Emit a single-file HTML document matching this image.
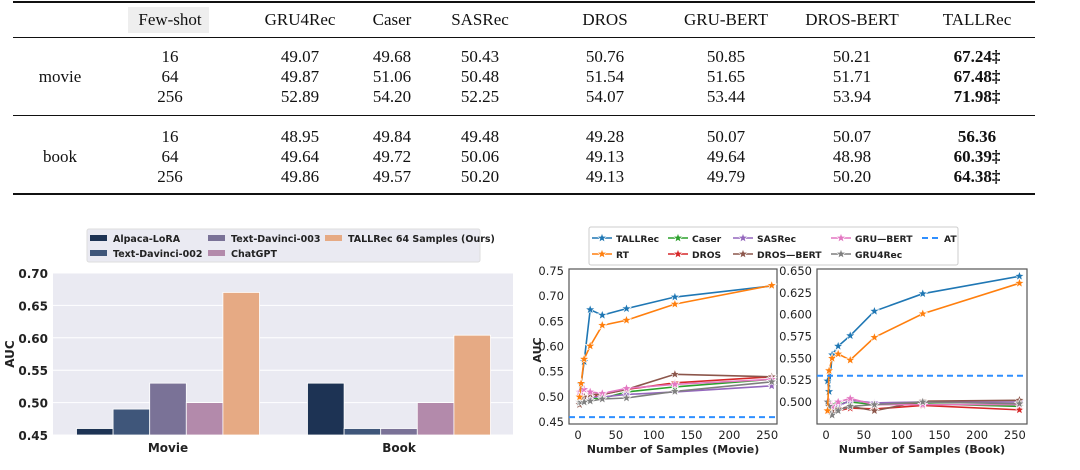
<!DOCTYPE html>
<html><head><meta charset="utf-8">
<style>
html,body{margin:0;padding:0;background:#fff;width:1080px;height:470px;overflow:hidden;position:relative}
.tbl{position:absolute;left:0;top:0;width:1080px;height:200px;font-family:"Liberation Serif",serif;font-size:17px;color:#111}
.rule{position:absolute;left:13px;width:1022px;background:#111}
.c{position:absolute;transform:translate(-50%,-50%);white-space:nowrap}
svg{position:absolute;left:0;top:0}
svg text{font-family:"DejaVu Sans",sans-serif}
</style></head><body>
<div class="tbl">
  <div class="rule" style="top:1px;height:2px"></div>
  <div class="rule" style="top:37px;height:1px"></div>
  <div class="rule" style="top:115px;height:1px"></div>
  <div class="rule" style="top:193px;height:2px"></div>
  <div style="position:absolute;left:128px;top:7px;width:81px;height:26px;background:#eee"></div>
  <div id="cells"></div>
</div>
<svg id="chart" width="1080" height="470"></svg>
<script>
const tblHeaders=["Few-shot","GRU4Rec","Caser","SASRec","DROS","GRU-BERT","DROS-BERT","TALLRec"];
const tblRows=[
["16","49.07","49.68","50.43","50.76","50.85","50.21","67.24‡"],
["64","49.87","51.06","50.48","51.54","51.65","51.71","67.48‡"],
["256","52.89","54.20","52.25","54.07","53.44","53.94","71.98‡"],
["16","48.95","49.84","49.48","49.28","50.07","50.07","56.36"],
["64","49.64","49.72","50.06","49.13","49.64","48.98","60.39‡"],
["256","49.86","49.57","50.20","49.13","49.79","50.20","64.38‡"]];
const colX=[170,300,392,480,605,726,852,977];
const rowY=[57,77,97,137,157,177];
const cells=document.getElementById('cells');
function cell(txt,x,y,bold,name){const d=document.createElement('div');d.className='c';d.style.left=x+'px';d.style.top=y+'px';if(bold)d.style.fontWeight='bold';d.textContent=txt;


cells.appendChild(d);}
tblHeaders.forEach((h,i)=>cell(h,colX[i],20,false,'header-'+h.toLowerCase()));
tblRows.forEach((r,ri)=>r.forEach((v,ci)=>cell(v,colX[ci],rowY[ri],ci==7,'cell')));
cell('movie',60,77,false,'group-movie');
cell('book',60,157,false,'group-book');

const NS='http://www.w3.org/2000/svg';
const svg=document.getElementById('chart');
function el(tag,attrs,parent){const e=document.createElementNS(NS,tag);for(const k in attrs)e.setAttribute(k,attrs[k]);(parent||svg).appendChild(e);return e;}
function txt(s,attrs,name){const t=el('text',attrs);t.textContent=s;


return t;}

// ---------- Bar chart ----------
const barCats=["Movie","Book"];
const barSeries=["Alpaca-LoRA","Text-Davinci-002","Text-Davinci-003","ChatGPT","TALLRec 64 Samples (Ours)"];
const barColors=["#1d3354","#3f567a","#7a7297","#b38aab","#e6aa84"];
const barMovie=[0.46,0.49,0.53,0.50,0.67];
const barBook=[0.53,0.46,0.46,0.50,0.604];
const barTicks=[0.45,0.50,0.55,0.60,0.65,0.70];
const bx0=53,bx1=513,by0=435,by1=273,bmin=0.45,bmax=0.70;
const byS=v=>by0-(v-bmin)/(bmax-bmin)*(by0-by1);
el('rect',{x:bx0,y:by1,width:bx1-bx0,height:by0-by1,fill:'#eaeaf2'});
barTicks.forEach(t=>{el('line',{x1:bx0,x2:bx1,y1:byS(t),y2:byS(t),stroke:'#fff','stroke-width':1});
txt(t.toFixed(2),{x:48,y:byS(t)+5,'text-anchor':'end','font-size':12,'font-weight':'bold',fill:'#222'},'y-tick');});
const groupCenters=[168,399],bw=36.6;
[barMovie,barBook].forEach((vals,g)=>{vals.forEach((v,i)=>{const x=groupCenters[g]+(i-2.5)*bw;
const r=el('rect',{x:x,y:byS(v),width:bw,height:by0-byS(v),fill:barColors[i],stroke:'#fff','stroke-width':0.8});

});
txt(barCats[g],{x:groupCenters[g],y:452,'text-anchor':'middle','font-size':12,'font-weight':'bold',fill:'#222'},'x-category');});
txt('AUC',{x:0,y:0,transform:'translate(14,354) rotate(-90)','text-anchor':'middle','font-size':12,'font-weight':'bold',fill:'#222'},'y-axis-title');
el('rect',{x:87,y:229,width:393,height:33,fill:'#eaeaf2',stroke:'#ddd',rx:2});
const legPos=[[90,238],[90,253],[208,238],[208,253],[325,238]];
barSeries.forEach((s,i)=>{el('rect',{x:legPos[i][0],y:legPos[i][1]-3,width:17,height:6,fill:barColors[i]});
txt(s,{x:legPos[i][0]+23,y:legPos[i][1]+4,'font-size':9.5,'font-weight':'bold',fill:'#222'},'legend-entry');});

// ---------- Line charts ----------
const xs=[2,4,8,16,32,64,128,256];
const lineNames=["TALLRec","RT","Caser","DROS","SASRec","DROS—BERT","GRU—BERT","GRU4Rec"];
const lineColors=["#1f77b4","#ff7f0e","#2ca02c","#d62728","#9467bd","#8c564b","#e377c2","#7f7f7f"];
const movieTALLRec=[0.50,0.525,0.57,0.673,0.662,0.675,0.698,0.720];
const movieRT=[0.50,0.527,0.575,0.601,0.642,0.652,0.684,0.721];
const movieCaser=[0.50,0.50,0.50,0.497,0.497,0.51,0.52,0.535];
const movieDROS=[0.49,0.50,0.50,0.50,0.505,0.515,0.528,0.54];
const movieSASRec=[0.50,0.50,0.50,0.50,0.50,0.505,0.51,0.522];
const movieDROSBERT=[0.485,0.50,0.50,0.505,0.505,0.515,0.545,0.54];
const movieGRUBERT=[0.51,0.51,0.515,0.51,0.507,0.517,0.525,0.535];
const movieGRU4Rec=[0.49,0.49,0.49,0.492,0.496,0.498,0.511,0.53];
const movieAT=0.46;
const bookTALLRec=[0.524,0.512,0.554,0.564,0.576,0.604,0.624,0.644];
const bookRT=[0.49,0.536,0.550,0.555,0.548,0.574,0.601,0.636];
const bookCaser=[0.50,0.50,0.497,0.498,0.50,0.497,0.498,0.495];
const bookDROS=[0.49,0.49,0.49,0.49,0.493,0.492,0.496,0.491];
const bookSASRec=[0.50,0.50,0.495,0.495,0.502,0.499,0.50,0.50];
const bookDROSBERT=[0.50,0.50,0.49,0.492,0.495,0.49,0.501,0.502];
const bookGRUBERT=[0.50,0.50,0.495,0.50,0.504,0.497,0.497,0.497];
const bookGRU4Rec=[0.50,0.495,0.485,0.49,0.495,0.497,0.50,0.498];
const bookAT=0.53;
const xTicks=[0,50,100,150,200,250];
const movieYTicks=[0.45,0.50,0.55,0.60,0.65,0.70,0.75];
const bookYTicks=[0.500,0.525,0.550,0.575,0.600,0.625,0.650];

function star(cx,cy,r,color,parent){let p=[];for(let i=0;i<10;i++){const a=-Math.PI/2+i*Math.PI/5;const rr=i%2?r*0.42:r;p.push((cx+rr*Math.cos(a)).toFixed(1)+','+(cy+rr*Math.sin(a)).toFixed(1));}
const s=el('polygon',{points:p.join(' '),fill:color,stroke:'#fff','stroke-width':0.6},parent);

}

function lineChart(cfg){
  const {x0,x1,y0,y1,xmin,xmax,ymin,ymax,series,at,yTicks,yDec,title,name}=cfg;
  const X=v=>x0+(v-xmin)/(xmax-xmin)*(x1-x0);
  const Y=v=>y0-(v-ymin)/(ymax-ymin)*(y0-y1);
  const g=el('g',{});
  
  
  el('rect',{x:x0,y:y1,width:x1-x0,height:y0-y1,fill:'#fff',stroke:'#555','stroke-width':1.2},g);
  xTicks.forEach(t=>{txt(String(t),{x:X(t),y:y0+15,'text-anchor':'middle','font-size':11.5,fill:'#222'},'x-tick');});
  yTicks.forEach(t=>{txt(t.toFixed(yDec),{x:x0-5,y:Y(t)+4,'text-anchor':'end','font-size':11.5,fill:'#222'},'y-tick');});
  const order=[2,3,4,5,6,7,0,1];
  order.forEach(i=>{const vals=series[i];
    const pl=el('polyline',{points:xs.map((x,j)=>X(x)+','+Y(vals[j])).join(' '),fill:'none',stroke:lineColors[i],'stroke-width':1.6},g);
    
    
    xs.forEach((x,j)=>star(X(x),Y(vals[j]),5,lineColors[i],g));});
  const a=el('line',{x1:x0,x2:x1,y1:Y(at),y2:Y(at),stroke:'#2f8fff','stroke-width':2,'stroke-dasharray':'6,4'},g);
  
  
  txt(title,{x:(x0+x1)/2,y:y0+29,'text-anchor':'middle','font-size':11,'font-weight':'bold',fill:'#222'},'x-axis-title');
}
lineChart({x0:569,x1:777,y0:424,y1:269,xmin:-12,xmax:263,ymin:0.4465,ymax:0.7535,
  series:[movieTALLRec,movieRT,movieCaser,movieDROS,movieSASRec,movieDROSBERT,movieGRUBERT,movieGRU4Rec],
  at:movieAT,yTicks:movieYTicks,yDec:2,title:'Number of Samples (Movie)',name:'movie-line-chart'});
lineChart({x0:817,x1:1027,y0:424,y1:269,xmin:-12,xmax:266,ymin:0.4748,ymax:0.6523,
  series:[bookTALLRec,bookRT,bookCaser,bookDROS,bookSASRec,bookDROSBERT,bookGRUBERT,bookGRU4Rec],
  at:bookAT,yTicks:bookYTicks,yDec:3,title:'Number of Samples (Book)',name:'book-line-chart'});
txt('AUC',{x:0,y:0,transform:'translate(541,350) rotate(-90)','text-anchor':'middle','font-size':11,'font-weight':'bold',fill:'#222'},'line-y-axis-title');

// line legend
el('rect',{x:589,y:227,width:369,height:38,fill:'#fff',stroke:'#ccc',rx:2});
const llPos=[[592,238],[592,254],[668,238],[668,254],[733,238],[733,254],[831,238],[831,254]];
lineNames.forEach((n,i)=>{const [lx,ly]=llPos[i];
  el('line',{x1:lx,x2:lx+20,y1:ly,y2:ly,stroke:lineColors[i],'stroke-width':1.6});
  star(lx+10,ly,5,lineColors[i]);
  txt(n,{x:lx+24,y:ly+4,'font-size':9.2,'font-weight':'bold',fill:'#222'},'legend-entry');});
el('line',{x1:922,x2:940,y1:238,y2:238,stroke:'#2f8fff','stroke-width':2,'stroke-dasharray':'6,4'});
txt('AT',{x:944,y:242,'font-size':9.2,'font-weight':'bold',fill:'#222'},'legend-entry');
</script>
</body></html>
